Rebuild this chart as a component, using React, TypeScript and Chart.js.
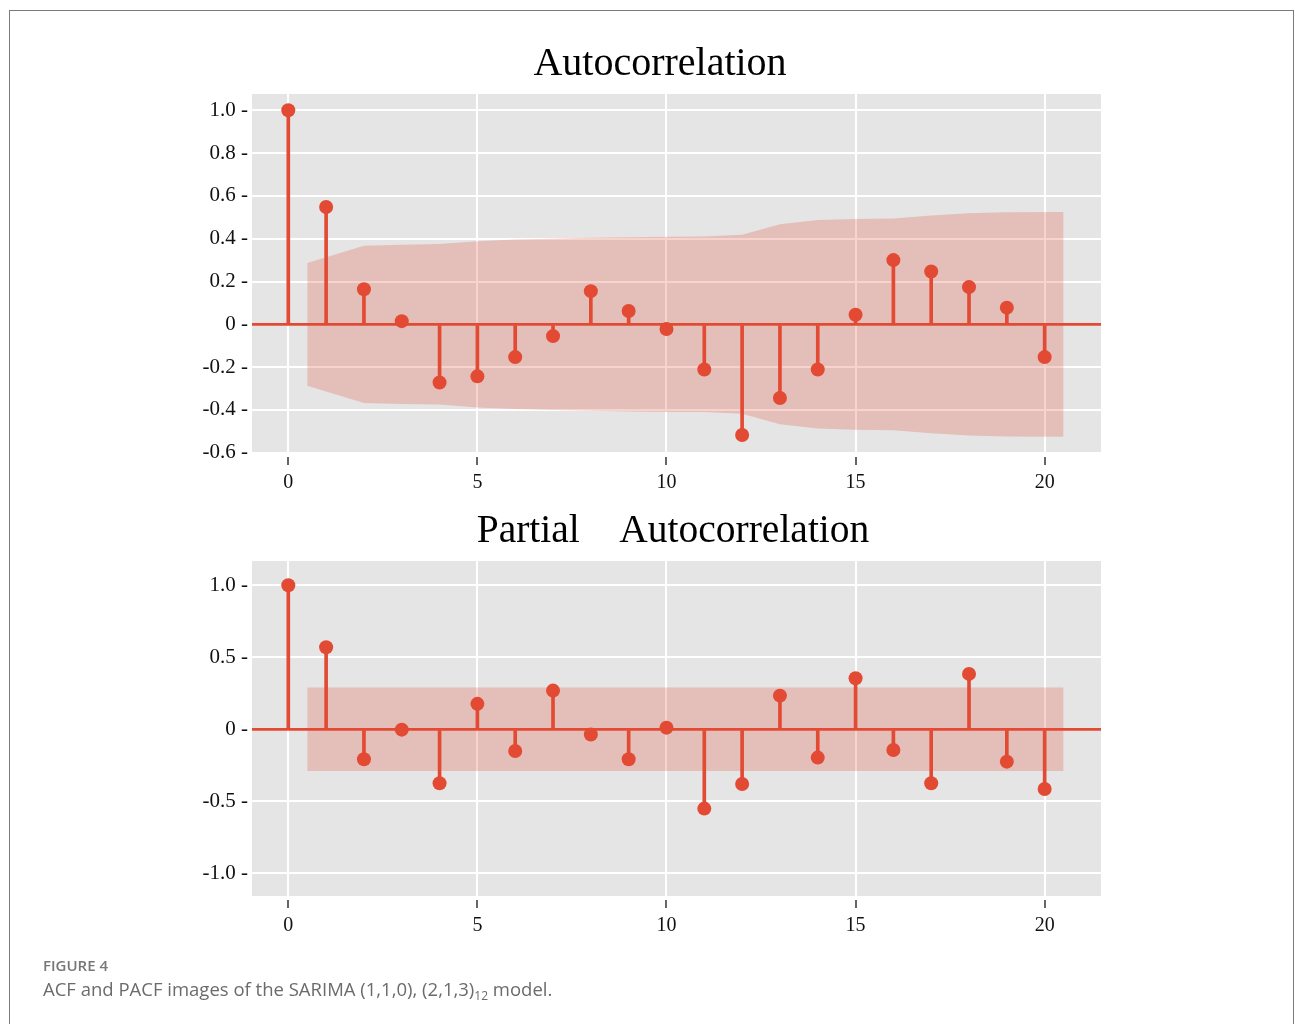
import React, { useEffect, useRef } from 'react';
import { Chart, registerables } from 'chart.js';

Chart.register(...registerables);

// ---------- data ----------
const lags = [0, 1, 2, 3, 4, 5, 6, 7, 8, 9, 10, 11, 12, 13, 14, 15, 16, 17, 18, 19, 20];

const acfValues = [1.0, 0.548, 0.164, 0.015, -0.272, -0.243, -0.153, -0.055, 0.155, 0.062, -0.022,
  -0.211, -0.517, -0.344, -0.211, 0.045, 0.3, 0.247, 0.174, 0.078, -0.153];

const acfBandLags = [0.5, 2, 3, 4, 5, 6, 7, 8, 9, 10, 11, 12, 13, 14, 15, 16, 17, 18, 19, 20.5];
const acfBandUpper = [0.287, 0.367, 0.372, 0.375, 0.388, 0.396, 0.4, 0.404, 0.407, 0.409, 0.41,
  0.418, 0.467, 0.487, 0.492, 0.495, 0.509, 0.519, 0.524, 0.525];
const acfBandLower = [-0.287, -0.367, -0.372, -0.375, -0.388, -0.396, -0.4, -0.404, -0.407, -0.409, -0.41,
  -0.418, -0.467, -0.487, -0.492, -0.495, -0.509, -0.519, -0.524, -0.525];

const pacfValues = [1.0, 0.569, -0.208, -0.003, -0.375, 0.176, -0.151, 0.268, -0.037, -0.208, 0.011,
  -0.551, -0.38, 0.233, -0.197, 0.354, -0.144, -0.375, 0.384, -0.225, -0.415];

const pacfBandLags = [0.5, 20.5];
const pacfBandUpper = [0.29, 0.29];
const pacfBandLower = [-0.29, -0.29];

const xTicks = [0, 5, 10, 15, 20];
const acfYTicks = [-0.6, -0.4, -0.2, 0, 0.2, 0.4, 0.6, 0.8, 1.0];
const pacfYTicks = [-1.0, -0.5, 0, 0.5, 1.0];

const acfTitle = 'Autocorrelation';
const pacfTitle = 'Partial    Autocorrelation';

// ---------- styles ----------
const RED = '#E24A33';
const BAND = 'rgba(226,74,51,0.25)';
const PANEL_BG = '#E5E5E5';
const SERIF = '"Liberation Serif", "Times New Roman", Times, serif';
const SANS = '"Open Sans", "Noto Sans", sans-serif';

const plotBgPlugin = {
  id: 'plotBg',
  beforeDraw(chart: any) {
    const { ctx, chartArea } = chart;
    if (!chartArea) return;
    ctx.save();
    ctx.fillStyle = PANEL_BG;
    ctx.fillRect(chartArea.left, chartArea.top, chartArea.right - chartArea.left, chartArea.bottom - chartArea.top);
    ctx.restore();
  },
};

const panelTitlePlugin = {
  id: 'panelTitle',
  afterDraw(chart: any, _args: any, opts: any) {
    if (!opts || !opts.text) return;
    const { ctx } = chart;
    ctx.save();
    ctx.font = `${opts.size}px ${SERIF}`;
    ctx.fillStyle = '#000000';
    ctx.textAlign = 'center';
    ctx.textBaseline = 'alphabetic';
    ctx.fillText(opts.text, opts.x, opts.y);
    ctx.restore();
  },
};

interface PanelProps {
  values: number[];
  bandLags: number[];
  bandUpper: number[];
  bandLower: number[];
  yTicks: number[];
  yMin: number;
  yMax: number;
  title: string;
  titleX: number;
  titleY: number;
  titleSize: number;
  top: number;
  height: number;
  padTop: number;
  padBottom: number;
}

function Panel(p: PanelProps) {
  const ref = useRef<HTMLCanvasElement | null>(null);
  useEffect(() => {
    if (!ref.current) return;
    const fmt = (v: number) => (Math.abs(v) < 1e-9 ? '0' : v.toFixed(1));
    const chart = new Chart(ref.current, {
      type: 'scatter',
      data: {
        datasets: [
          {
            type: 'line',
            data: p.bandLags.map((x, i) => ({ x, y: p.bandUpper[i] })),
            borderColor: 'rgba(0,0,0,0)',
            borderWidth: 0,
            pointRadius: 0,
            backgroundColor: BAND,
            fill: '+1',
            tension: 0,
            order: 3,
          } as any,
          {
            type: 'line',
            data: p.bandLags.map((x, i) => ({ x, y: p.bandLower[i] })),
            borderColor: 'rgba(0,0,0,0)',
            borderWidth: 0,
            pointRadius: 0,
            fill: false,
            tension: 0,
            order: 3,
          } as any,
          {
            type: 'bar',
            data: lags.map((x, i) => ({ x, y: p.values[i] })),
            backgroundColor: RED,
            barThickness: 3,
            borderWidth: 0,
            order: 2,
          } as any,
          {
            type: 'scatter',
            data: lags.map((x, i) => ({ x, y: p.values[i] })),
            backgroundColor: RED,
            borderWidth: 0,
            pointRadius: 7,
            order: 1,
          } as any,
        ],
      },
      options: {
        responsive: false,
        animation: false,
        events: [],
        layout: { padding: { left: 192, right: 194, top: p.padTop, bottom: p.padBottom } },
        plugins: {
          legend: { display: false },
          tooltip: { enabled: false },
          title: { display: false },
          panelTitle: { text: p.title, x: p.titleX, y: p.titleY, size: p.titleSize },
        } as any,
        scales: {
          x: {
            type: 'linear',
            min: -0.96,
            max: 21.49,
            offset: false,
            afterFit: (s: any) => { s.height = 40; },
            afterBuildTicks: (s: any) => { s.ticks = xTicks.map((v) => ({ value: v })); },
            border: { display: false },
            grid: {
              offset: false,
              color: '#ffffff',
              lineWidth: 2,
              drawTicks: true,
              tickLength: 12,
              tickColor: '#333333',
              tickWidth: 1.5,
              tickBorderDash: [8, 4],
              tickBorderDashOffset: 8,
            },
            ticks: {
              color: '#111111',
              font: { family: SERIF, size: 20 },
              padding: 6,
              maxRotation: 0,
              callback: (v: any) => String(v),
            },
          },
          y: {
            type: 'linear',
            min: p.yMin,
            max: p.yMax,
            afterFit: (s: any) => { s.width = 60; },
            afterBuildTicks: (s: any) => { s.ticks = p.yTicks.map((v) => ({ value: v })); },
            border: { display: false },
            grid: {
              color: (c: any) => (c.tick && Math.abs(c.tick.value) < 1e-9 ? RED : '#ffffff'),
              lineWidth: (c: any) => (c.tick && Math.abs(c.tick.value) < 1e-9 ? 2.7 : 2),
              drawTicks: false,
            },
            ticks: {
              color: '#111111',
              font: { family: SERIF, size: 21 },
              padding: 4,
              callback: (v: any) => `${fmt(Number(v))} -`,
            },
          },
        },
      },
      plugins: [plotBgPlugin, panelTitlePlugin],
    } as any);
    return () => chart.destroy();
  }, []);
  return (
    <canvas
      ref={ref}
      width={1295}
      height={p.height}
      style={{ position: 'absolute', left: 0, top: p.top, width: 1295, height: p.height }}
    />
  );
}

export default function App() {
  return (
    <div style={{ position: 'absolute', left: 0, top: 0, width: 1295, height: 1024, overflow: 'hidden', background: '#ffffff' }}>
      <div
        style={{
          position: 'absolute', left: 9, top: 10, width: 1285, height: 1040,
          border: '1.5px solid #7a7a7a', boxSizing: 'border-box',
        }}
      />
      <Panel
        values={acfValues}
        bandLags={acfBandLags}
        bandUpper={acfBandUpper}
        bandLower={acfBandLower}
        yTicks={acfYTicks}
        yMin={-0.601}
        yMax={1.076}
        title={acfTitle}
        titleX={660}
        titleY={75}
        titleSize={40}
        top={0}
        height={500}
        padTop={94}
        padBottom={7}
      />
      <Panel
        values={pacfValues}
        bandLags={pacfBandLags}
        bandUpper={pacfBandUpper}
        bandLower={pacfBandLower}
        yTicks={pacfYTicks}
        yMin={-1.158}
        yMax={1.168}
        title={pacfTitle}
        titleX={673}
        titleY={41.7}
        titleSize={39.5}
        top={500}
        height={460}
        padTop={61}
        padBottom={24}
      />
      <div
        style={{
          position: 'absolute', left: 43, top: 955, fontFamily: SANS, fontSize: 15, fontWeight: 600,
          color: '#777777', lineHeight: '20px', whiteSpace: 'nowrap',
        }}
      >
        FIGURE 4
      </div>
      <div
        style={{
          position: 'absolute', left: 43, top: 976, fontFamily: SANS, fontSize: 18.5,
          color: '#6b6b6b', lineHeight: '26px', whiteSpace: 'nowrap',
        }}
      >
        ACF and PACF images of the SARIMA (1,1,0), (2,1,3)
        <sub style={{ fontSize: 12, verticalAlign: 'baseline', position: 'relative', top: 4 }}>12</sub> model.
      </div>
    </div>
  );
}
